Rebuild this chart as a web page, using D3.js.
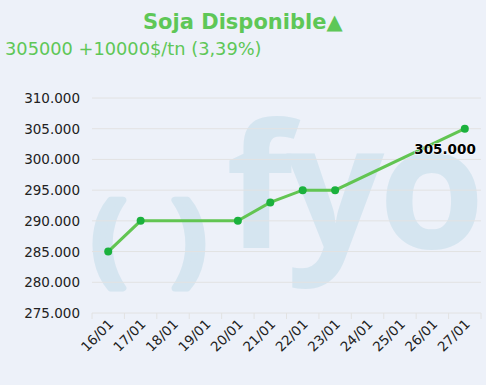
<!DOCTYPE html>
<html>
<head>
<meta charset="utf-8">
<script src="https://cdn.jsdelivr.net/npm/d3@7"></script>
<style>
  body { margin: 0; background: #edf1f9; }
  svg { display: block; font-family: "DejaVu Sans", Verdana, sans-serif; }
</style>
</head>
<body>
<svg></svg>
<script>
let days = ["16/01", "17/01", "18/01", "19/01", "20/01", "21/01", "22/01", "23/01", "24/01", "25/01", "26/01", "27/01"];
let pointDays = ["16/01", "17/01", "20/01", "21/01", "22/01", "23/01", "27/01"];
let prices = [285000, 290000, 290000, 293000, 295000, 295000, 305000];
let yTicks = [275000, 280000, 285000, 290000, 295000, 300000, 305000, 310000];

let width = 486;
let height = 385;
let plotLeft = 92, plotRight = 481, plotTop = 98, plotBottom = 313;

let values = pointDays.map((d, i) => ({ day: d, price: prices[i] }));

let svg = d3.select("svg").attr("width", width).attr("height", height);

svg.append("rect").attr("width", width).attr("height", height).attr("fill", "#edf1f9");

let xScale = d3.scaleBand().domain(days).range([plotLeft, plotRight]).padding(0);
let yScale = d3.scaleLinear().domain([275000, 310000]).range([plotBottom, plotTop]);

let fmt = v => d3.format(",")(v).replace(/,/g, ".");

// watermark
let wm = svg.append("g").attr("fill", "#d5e5f0").attr("font-family", "Open Sans, sans-serif").attr("font-weight", "bold");
wm.append("text").attr("x", 92).attr("y", 272).attr("font-size", 100)
  .attr("stroke", "#d5e5f0").attr("stroke-width", 7).attr("stroke-linejoin", "round").text("(");
wm.append("text").attr("x", 172).attr("y", 272).attr("font-size", 100)
  .attr("stroke", "#d5e5f0").attr("stroke-width", 7).attr("stroke-linejoin", "round").text(")");
wm.append("text").attr("x", 226).attr("y", 248).attr("font-size", 172).attr("letter-spacing", -6).text("fyo");

// grid
svg.append("g")
  .selectAll("line")
  .data(yTicks)
  .enter()
  .append("line")
  .attr("x1", plotLeft).attr("x2", plotRight)
  .attr("y1", d => yScale(d)).attr("y2", d => yScale(d))
  .attr("stroke", "#e2e2e2").attr("stroke-width", 1);

// y labels
svg.append("g")
  .selectAll("text")
  .data(yTicks)
  .enter()
  .append("text")
  .attr("x", 80)
  .attr("y", d => yScale(d) + 5)
  .attr("text-anchor", "end")
  .attr("font-size", 13.5)
  .attr("fill", "#222")
  .text(d => fmt(d));

// x axis ticks at band edges
let edges = days.map(d => xScale(d)).concat([plotRight]);
svg.append("g")
  .selectAll("line")
  .data(edges)
  .enter()
  .append("line")
  .attr("x1", d => d).attr("x2", d => d)
  .attr("y1", plotBottom).attr("y2", plotBottom + 6)
  .attr("stroke", "#e2e2e2");
svg.append("g")
  .selectAll("text")
  .data(days)
  .enter()
  .append("text")
  .attr("transform", d => `translate(${xScale(d) + xScale.bandwidth() / 2 + 6}, ${plotBottom + 12}) rotate(-45)`)
  .attr("text-anchor", "end")
  .attr("font-size", 13.5)
  .attr("fill", "#222")
  .text(d => d);

// line
let cx = d => xScale(d.day) + xScale.bandwidth() / 2;
svg.append("path")
  .datum(values)
  .attr("d", d3.line().x(cx).y(d => yScale(d.price)))
  .attr("fill", "none")
  .attr("stroke", "#62c552")
  .attr("stroke-width", 3);

svg.append("g")
  .selectAll("circle")
  .data(values)
  .enter()
  .append("circle")
  .attr("cx", cx)
  .attr("cy", d => yScale(d.price))
  .attr("r", 4)
  .attr("fill", "#1bb13d");

// last value label
let last = values[values.length - 1];
svg.append("text")
  .attr("x", cx(last) + 11)
  .attr("y", yScale(last.price) + 25)
  .attr("text-anchor", "end")
  .attr("font-size", 13.5)
  .attr("font-weight", "bold")
  .attr("fill", "#000")
  .attr("stroke", "#ffffff")
  .attr("stroke-width", 1)
  .attr("paint-order", "stroke")
  .text(fmt(last.price));

// titles
svg.append("text")
  .attr("x", 143).attr("y", 29)
  .attr("font-size", 21).attr("font-weight", "bold")
  .attr("fill", "#5ec757")
  .text("Soja Disponible▲");
svg.append("text")
  .attr("x", 5).attr("y", 55)
  .attr("font-size", 17.8)
  .attr("fill", "#5ec757")
  .text("305000 +10000$/tn (3,39%)");
</script>
</body>
</html>
